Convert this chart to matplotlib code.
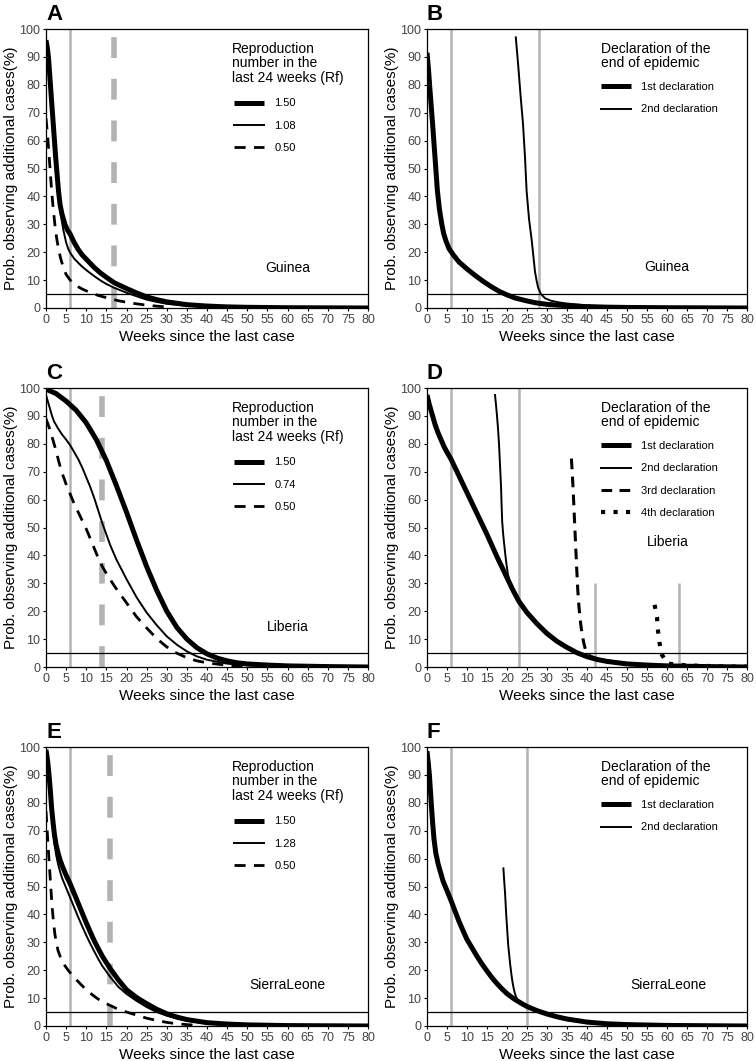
import matplotlib.pyplot as plt

plt.rcParams['font.family'] = ['Liberation Sans', 'DejaVu Sans']

GRAY = '#b3b3b3'

# -------- Panel A : Guinea, Rf scenarios --------
a_x_150 = [0, 0.3, 0.6, 0.9, 1.2, 1.5, 1.8, 2.1, 2.4, 2.75, 3.1, 3.5, 4, 4.7, 5.3, 6, 7, 8, 9, 10, 11, 12,
           13.5, 15, 17, 18.5, 20, 22.5, 25, 27.5, 30, 35, 40, 45, 50, 60, 70, 80]
a_y_150 = [96, 93.5, 90, 84, 78, 72, 66, 60, 54, 48, 42, 37, 33.5, 30, 28, 26.5, 23.5, 21, 19, 17.5, 16, 14.5,
           12.6, 11, 9, 8, 7, 5.4, 4, 3, 2.2, 1.2, 0.7, 0.4, 0.25, 0.1, 0.05, 0]
a_x_108 = [0, 0.3, 0.6, 0.9, 1.2, 1.5, 1.8, 2.1, 2.4, 2.75, 3.1, 3.6, 4.3, 5, 5.5, 6, 7, 8, 9, 10, 12,
           13.5, 15, 17, 20, 22.5, 25, 27.5, 30, 35, 40, 50, 60, 80]
a_y_108 = [96, 92.5, 88, 82, 76, 69.5, 63, 57, 51, 45.5, 40, 34, 28, 23.5, 21.3, 19.8, 17.7, 16.2, 14.8, 13.6, 11.4,
           9.9, 8.6, 7.2, 5.5, 4.2, 3, 2.2, 1.5, 0.8, 0.4, 0.15, 0.05, 0]
a_x_050 = [0, 0.4, 0.8, 1.1, 1.4, 1.8, 2.2, 2.6, 3, 3.6, 4.3, 5, 6, 7, 8, 9, 11, 13, 16, 18, 21, 25, 28, 30]
a_y_050 = [68, 62, 54, 48, 42, 35.5, 30, 25.5, 22, 18, 14.5, 12, 10, 8.6, 7.6, 6.8, 5.5, 4.5, 3.3, 2.6, 1.8, 1.0, 0.6, 0.4]
a_rf_labels = ['1.50', '1.08', '0.50']
a_ref_solid = [6]
a_ref_dash = 17

# -------- Panel B : Guinea, declarations --------
b_x_1st = [0, 0.4, 0.75, 1.1, 1.4, 1.7, 2, 2.3, 2.6, 3.1, 3.7, 4.2, 4.75, 5.5, 6.6, 8, 10, 12, 14, 16, 18, 20,
           22, 24.5, 27, 30, 35, 40, 45, 50, 60, 80]
b_y_1st = [91.5, 85, 78, 71.5, 66, 60, 54, 48, 42, 35.5, 30, 26.5, 24, 21.3, 19, 16.5, 14, 11.7, 9.6, 7.7, 6, 4.7,
           3.6, 2.7, 1.9, 1.3, 0.8, 0.5, 0.3, 0.2, 0.1, 0]
b_x_2nd = [22.2, 22.5, 22.8, 23.1, 23.4, 23.7, 24, 24.25, 24.5, 24.7, 24.9, 25.2, 25.5, 25.85, 26.2, 26.6, 27,
           27.4, 27.8, 28.5, 29.5, 31, 33, 35, 40, 45, 50, 60, 80]
b_y_2nd = [97, 92, 87, 81.5, 76, 71, 66, 60, 54, 48, 42, 37, 32, 28, 24, 18.5, 13, 9.8, 7.2, 5, 3.5, 2.6, 2.0,
           1.6, 0.9, 0.5, 0.3, 0.1, 0]
b_ref_solid = [6, 28]

# -------- Panel C : Liberia, Rf scenarios --------
c_x_150 = [0, 2.5, 5, 7.5, 10, 12.5, 15, 17.5, 20, 22.5, 25, 27.5, 30, 32.5, 35, 37.5, 40, 42.5, 45, 47.5, 50,
           55, 60, 70, 80]
c_y_150 = [99.6, 98, 95.3, 92, 87.5, 81.5, 74, 65, 55.5, 45.5, 36, 27.5, 20, 14.2, 10, 6.9, 4.7, 3.2, 2.2, 1.5, 1.1,
           0.7, 0.4, 0.15, 0]
c_x_074 = [0, 0.5, 1, 1.5, 2, 3, 4, 5, 6, 7, 8, 9, 10, 11, 12, 13, 14, 15, 16, 17.5, 20, 22.5, 25, 27.5, 30,
           32.5, 35, 37.5, 40, 45, 50, 55, 60, 80]
c_y_074 = [97.5, 95, 92.5, 90, 88, 85.5, 83.3, 81.5, 79.5, 77, 74.5, 71.5, 68, 64.5, 60.5, 56, 51.5, 47.5, 43.5,
           38.5, 31.5, 25, 19.5, 15, 11, 8, 5.6, 3.8, 2.6, 1.2, 0.6, 0.3, 0.15, 0]
c_x_050 = [0, 0.5, 1, 1.4, 2, 2.5, 3.2, 4, 5, 6, 7, 8, 9, 10, 11, 12, 13, 14, 15, 17, 20, 22.5, 25, 27.5, 30,
           32, 35, 37.5, 40, 45, 50]
c_y_050 = [89, 87, 85, 83, 80, 77.5, 73.5, 69.5, 65.5, 62, 58.5, 55.5, 52.5, 49.5, 46, 42.5, 39, 36, 33.5, 29, 23,
           18, 14, 10.2, 7.2, 5.3, 3.3, 2.2, 1.5, 0.6, 0.3]
c_rf_labels = ['1.50', '0.74', '0.50']
c_ref_solid = [6]
c_ref_dash = 14

# -------- Panel D : Liberia, declarations --------
d_x_1st = [0, 0.5, 1, 1.5, 2, 2.75, 3.5, 4.25, 5, 6, 7, 8, 9, 10, 12.5, 15, 17.5, 20, 21.5, 23, 25, 27.5, 30,
           32.5, 35, 37.5, 40, 42.5, 45, 50, 55, 60, 70, 80]
d_y_1st = [97.5, 94.5, 92, 89.5, 87, 84, 81.5, 79, 77, 74.5, 71.5, 68.5, 65.5, 62.5, 55, 47.5, 39.5, 32, 27.5,
           23.5, 19.5, 15.5, 12, 9.2, 7, 5.1, 3.7, 2.7, 2, 1.1, 0.7, 0.4, 0.15, 0]
d_x_2nd = [17, 17.25, 17.5, 17.75, 18, 18.25, 18.5, 18.65, 18.8, 19.05, 19.3, 19.6, 19.9, 20.2, 20.6, 21.1, 21.5,
           23, 25, 30, 35, 40, 50, 60, 80]
d_y_2nd = [97.5, 94, 90, 85.5, 80, 72.5, 65, 58, 52, 47.5, 44, 40, 36.5, 33.5, 31, 28.8, 27.5,
           23.5, 19.5, 12, 7, 3.7, 1.1, 0.4, 0]
d_x_3rd = [36.1, 36.3, 36.5, 36.8, 37.1, 37.4, 37.7, 38, 38.4, 38.8, 39.2, 39.6, 40, 41, 42, 45, 50, 55, 60]
d_y_3rd = [74.7, 70, 64.6, 55, 45.5, 36, 27.5, 21.5, 15.7, 11.5, 8.6, 6.3, 4.6, 3.8, 3.2, 2.2, 1.2, 0.7, 0.4]
d_x_4th = [56.9, 57.5, 57.7, 58.1, 58.7, 60.2, 63, 66, 69, 72, 75, 78, 80]
d_y_4th = [22.3, 17.9, 13.6, 8.9, 4.4, 1.2, 0.8, 0.5, 0.4, 0.3, 0.2, 0.1, 0.1]
d_ref_solid = [6, 23]
d_ref_short = [42, 63]
d_ref_short_top = 30

# -------- Panel E : Sierra Leone, Rf scenarios --------
e_x_150 = [0, 0.4, 0.75, 1.1, 1.4, 1.75, 2.1, 2.5, 3, 3.5, 4, 5, 6, 7, 8, 9, 10, 11, 12, 13, 14, 15, 16, 17,
           18, 20, 22.5, 25, 27.5, 30, 32.5, 35, 40, 45, 50, 60, 80]
e_y_150 = [99, 95, 90, 84, 78, 73, 68.5, 65, 62, 59.5, 57.5, 54, 51, 47.5, 44, 40.5, 37, 33.7, 30.5, 27.7, 25,
           22.7, 20.5, 18.5, 16.5, 13, 10.2, 8, 6, 4.4, 3.2, 2.3, 1.2, 0.7, 0.4, 0.15, 0]
e_x_128 = [0, 0.35, 0.7, 1, 1.3, 1.65, 2, 2.5, 3, 3.5, 4, 5, 6, 7, 8, 9, 10, 11, 12, 13, 14, 15, 16, 18, 20,
           22.5, 25, 27.5, 30, 32.5, 35, 40, 45, 50, 60, 80]
e_y_128 = [99, 95, 90, 84, 78, 72, 66.5, 61.5, 58, 55.3, 53, 49.5, 46, 42.5, 39, 35.7, 32.5, 29.5, 26.7, 24,
           21.5, 19.5, 17.5, 14, 11.5, 9, 6.8, 5, 3.7, 2.7, 1.9, 0.9, 0.5, 0.3, 0.1, 0]
e_x_050 = [0, 0.3, 0.5, 0.75, 1, 1.25, 1.5, 1.85, 2.2, 2.6, 3, 3.5, 4.5, 5.5, 6.5, 7.6, 8.8, 10, 11.5, 13, 15,
           17.5, 20, 22.5, 25, 27.5, 30, 32.5, 35, 38]
e_y_050 = [77, 70, 65, 59.5, 54, 48.5, 43, 37.5, 33, 29.5, 27, 25, 22, 20, 18.2, 16.5, 14.7, 13, 11.2, 9.6, 8,
           6.3, 5, 3.9, 2.8, 2, 1.3, 0.8, 0.5, 0.2]
e_rf_labels = ['1.50', '1.28', '0.50']
e_ref_solid = [6]
e_ref_dash = 16

# -------- Panel F : Sierra Leone, declarations --------
f_x_1st = [0, 0.3, 0.6, 0.85, 1.1, 1.4, 1.75, 2.2, 2.8, 3.4, 4, 5, 6, 7, 8, 9, 10, 11.25, 12.5, 13.75, 15,
           16.25, 17.5, 18.75, 20, 21, 22, 23.5, 25, 27.5, 30, 32.5, 35, 40, 45, 50, 60, 80]
f_y_1st = [98.5, 94.5, 90, 84.5, 79, 73, 67, 62, 58, 55, 52, 48.5, 45, 41.2, 37.5, 34.2, 31, 28, 25, 22.2, 19.7,
           17.3, 15.2, 13.3, 11.6, 10.5, 9.5, 8.2, 7, 5.5, 4.3, 3.3, 2.5, 1.4, 0.8, 0.5, 0.2, 0]
f_x_2nd = [19.1, 19.3, 19.5, 19.65, 19.8, 20.05, 20.3, 20.55, 20.8, 21.1, 21.4, 21.7, 22, 22.5, 23.5, 25, 30,
           40, 60, 80]
f_y_2nd = [56.5, 52, 48, 44, 40, 34.5, 29, 25.5, 22, 18.5, 15.5, 13.3, 11.5, 9.6, 8.2, 7, 4.3, 1.4, 0.2, 0]
f_ref_solid = [6, 25]

decl_labels = ['1st declaration', '2nd declaration', '3rd declaration', '4th declaration']
rf_title = 'Reproduction\nnumber in the\nlast 24 weeks (Rf)'
decl_title = 'Declaration of the\nend of epidemic'

THICK = dict(color='black', lw=3.6, solid_capstyle='butt', solid_joinstyle='round', zorder=2)
THIN = dict(color='black', lw=1.4, solid_joinstyle='round', zorder=2)
DASH = dict(color='black', lw=2.0, linestyle=(0, (4, 3)), zorder=2)
DASH3 = dict(color='black', lw=2.2, linestyle=(0, (3.5, 2.4)), zorder=2)
DOT = dict(color='black', lw=3.0, linestyle=(0, (1, 2)), zorder=2)

fig = plt.figure(figsize=(7.56, 10.61), dpi=100)


def make_axes(rect, letter, country, cx, cy):
    ax = fig.add_axes(rect)
    ax.set_xlim(0, 80)
    ax.set_ylim(0, 100)
    ax.set_xticks(range(0, 81, 5))
    ax.set_yticks(range(0, 101, 10))
    ax.tick_params(direction='out', length=2.5, width=0.8, labelsize=9,
                   labelcolor='#444444', pad=1.5)
    for s in ax.spines.values():
        s.set_linewidth(0.9)
    ax.set_xlabel('Weeks since the last case', fontsize=11, labelpad=3.5)
    ax.set_ylabel('Prob. observing additional cases(%)', fontsize=11, labelpad=1)
    ax.text(0.0, 1.032, letter, transform=ax.transAxes, fontsize=16,
            fontweight='bold', ha='left', va='baseline')
    ax.text(cx, cy, country, transform=ax.transAxes, fontsize=10,
            ha='center', va='center')
    ax.axhline(5, color='black', lw=0.9, zorder=3)
    return ax


def add_legend(ax, handles, labels, title, tx, ty, lx, ly):
    ax.text(tx, ty, title, transform=ax.transAxes, fontsize=10,
            ha='left', va='top', linespacing=1.05)
    ax.legend(handles, labels, loc='upper left', bbox_to_anchor=(lx, ly),
              frameon=False, fontsize=8, handlelength=2.7, handletextpad=0.9,
              labelspacing=1.1, borderpad=0.4, borderaxespad=0)


def ref_lines(ax, solid, dash=None):
    ax.vlines(solid, 0, 100, color=GRAY, lw=1.8, zorder=1)
    if dash is not None:
        ax.vlines(dash, 0, 97, color=GRAY, lw=4, linestyles=[(0, (3.75, 3.75))], zorder=1)


W_L, W_R = 322 / 756, 320 / 756
H = 279 / 1061
X_L, X_R = 46 / 756, 427 / 756
Y_TOP, Y_MID, Y_BOT = 1 - 308 / 1061, 1 - 667 / 1061, 1 - 1026 / 1061

# A
ax = make_axes([X_L, Y_TOP, W_L, H], 'A', 'Guinea', 0.75, 0.145)
ref_lines(ax, a_ref_solid, a_ref_dash)
h1, = ax.plot(a_x_150, a_y_150, **THICK)
h2, = ax.plot(a_x_108, a_y_108, **THIN)
h3, = ax.plot(a_x_050, a_y_050, **DASH)
add_legend(ax, [h1, h2, h3], a_rf_labels, rf_title, 0.578, 0.955, 0.571, 0.767)

# B
ax = make_axes([X_R, Y_TOP, W_R, H], 'B', 'Guinea', 0.75, 0.147)
ref_lines(ax, b_ref_solid)
h1, = ax.plot(b_x_1st, b_y_1st, **THICK)
h2, = ax.plot(b_x_2nd, b_y_2nd, **THIN)
add_legend(ax, [h1, h2], decl_labels[:2], decl_title, 0.544, 0.955, 0.531, 0.825)

# C
ax = make_axes([X_L, Y_MID, W_L, H], 'C', 'Liberia', 0.75, 0.143)
ref_lines(ax, c_ref_solid, c_ref_dash)
h1, = ax.plot(c_x_150, c_y_150, **THICK)
h2, = ax.plot(c_x_074, c_y_074, **THIN)
h3, = ax.plot(c_x_050, c_y_050, **DASH)
add_legend(ax, [h1, h2, h3], c_rf_labels, rf_title, 0.578, 0.955, 0.571, 0.767)

# D
ax = make_axes([X_R, Y_MID, W_R, H], 'D', 'Liberia', 0.753, 0.448)
ref_lines(ax, d_ref_solid)
ax.vlines(d_ref_short, 0, d_ref_short_top, color=GRAY, lw=1.8, zorder=1)
h1, = ax.plot(d_x_1st, d_y_1st, **THICK)
h2, = ax.plot(d_x_2nd, d_y_2nd, **THIN)
h3, = ax.plot(d_x_3rd, d_y_3rd, **DASH3)
h4, = ax.plot(d_x_4th, d_y_4th, **DOT)
add_legend(ax, [h1, h2, h3, h4], decl_labels, decl_title, 0.544, 0.955, 0.531, 0.825)

# E
ax = make_axes([X_L, Y_BOT, W_L, H], 'E', 'SierraLeone', 0.75, 0.147)
ref_lines(ax, e_ref_solid, e_ref_dash)
h1, = ax.plot(e_x_150, e_y_150, **THICK)
h2, = ax.plot(e_x_128, e_y_128, **THIN)
h3, = ax.plot(e_x_050, e_y_050, **DASH)
add_legend(ax, [h1, h2, h3], e_rf_labels, rf_title, 0.578, 0.955, 0.571, 0.767)

# F
ax = make_axes([X_R, Y_BOT, W_R, H], 'F', 'SierraLeone', 0.753, 0.147)
ref_lines(ax, f_ref_solid)
h1, = ax.plot(f_x_1st, f_y_1st, **THICK)
h2, = ax.plot(f_x_2nd, f_y_2nd, **THIN)
add_legend(ax, [h1, h2], decl_labels[:2], decl_title, 0.544, 0.955, 0.531, 0.825)

fig.savefig('out.png', dpi=100)
